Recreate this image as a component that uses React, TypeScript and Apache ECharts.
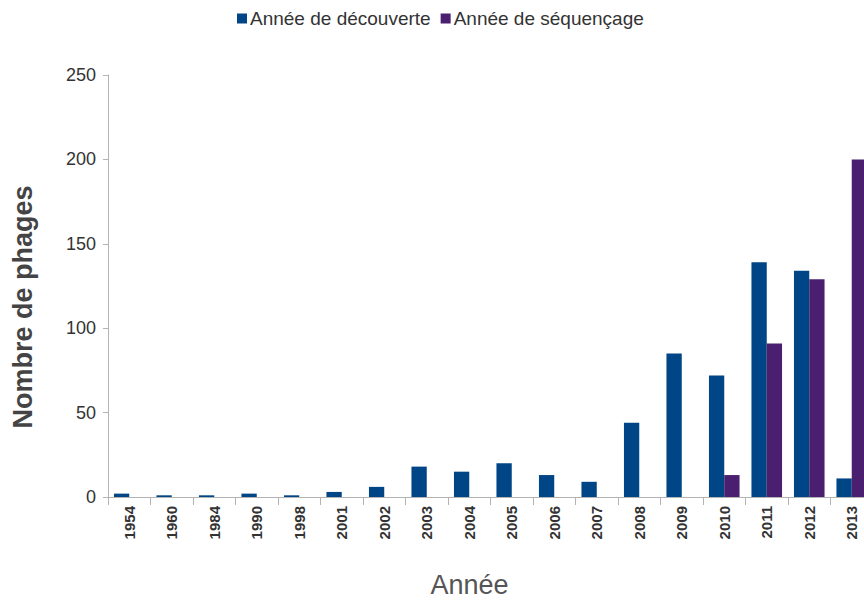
import React, { useEffect, useRef } from "react";
import * as echarts from "echarts";

const years = ["1954", "1960", "1984", "1990", "1998", "2001", "2002", "2003", "2004", "2005", "2006", "2007", "2008", "2009", "2010", "2011", "2012", "2013"];
const decouverte = [2, 1, 1, 2, 1, 3, 6, 18, 15, 20, 13, 9, 44, 85, 72, 139, 134, 11];
const sequencage = [0, 0, 0, 0, 0, 0, 0, 0, 0, 0, 0, 0, 0, 0, 13, 91, 129, 200];
const yTicks = [0, 50, 100, 150, 200, 250];

export default function App() {
  const ref = useRef<HTMLDivElement>(null);
  useEffect(() => {
    if (!ref.current) return;
    const chart = echarts.init(ref.current, undefined, { renderer: "svg" });
    const font = "'Liberation Sans', Arial, sans-serif";
    chart.setOption({
      animation: false,
      backgroundColor: "#ffffff",
      legend: {
        left: 232,
        top: 4,
        itemWidth: 10,
        itemHeight: 10,
        itemGap: 10,
        icon: "rect",
        textStyle: { fontFamily: font, fontSize: 19, color: "#333333", padding: [0, 0, 0, -2] },
        data: ["Année de découverte", "Année de séquençage"],
      },
      grid: { left: 108, right: 17, top: 75, bottom: 103, containLabel: false, outerBoundsMode: "none" },
      xAxis: {
        type: "category",
        data: years,
        name: "Année",
        nameLocation: "middle",
        nameGap: 77,
        nameTextStyle: { fontFamily: font, fontSize: 27, lineHeight: 22, color: "#555555", padding: [0, 42, 0, 0] },
        axisLine: { show: true, lineStyle: { color: "#b3b3b3", width: 1 } },
        axisTick: { show: true, length: 8, alignWithLabel: false, lineStyle: { color: "#b3b3b3" } },
        axisLabel: {
          rotate: 90,
          margin: 9,
          fontFamily: font,
          fontWeight: "bold",
          fontSize: 15,
          color: "#333333",
        },
      },
      yAxis: {
        type: "value",
        min: 0,
        max: 250,
        interval: 50,
        name: "Nombre de phages",
        nameLocation: "middle",
        nameGap: 72,
        nameTextStyle: { fontFamily: font, fontSize: 27, fontWeight: "bold", color: "#444444", padding: [0, 42, 0, 0] },
        axisLine: { show: true, lineStyle: { color: "#b3b3b3", width: 1 } },
        axisTick: { show: true, length: 5, lineStyle: { color: "#b3b3b3" } },
        splitLine: { show: false },
        axisLabel: {
          margin: 12,
          fontFamily: font,
          fontSize: 18,
          color: "#333333",
          formatter: (v: number) => (yTicks.includes(v) ? String(v) : ""),
        },
      },
      series: [
        {
          name: "Année de découverte",
          type: "bar",
          data: decouverte,
          barGap: "0%",
          barCategoryGap: "28%",
          itemStyle: { color: "#004586" },
        },
        {
          name: "Année de séquençage",
          type: "bar",
          data: sequencage,
          barGap: "0%",
          barCategoryGap: "28%",
          itemStyle: { color: "#4b1f6f" },
        },
      ],
    });
    return () => chart.dispose();
  }, []);
  return (
    <div style={{ position: "fixed", left: 0, top: 0, width: 864, height: 600, overflow: "hidden", background: "#fff" }}>
      <div ref={ref} style={{ width: 890, height: 600 }} />
    </div>
  );
}
